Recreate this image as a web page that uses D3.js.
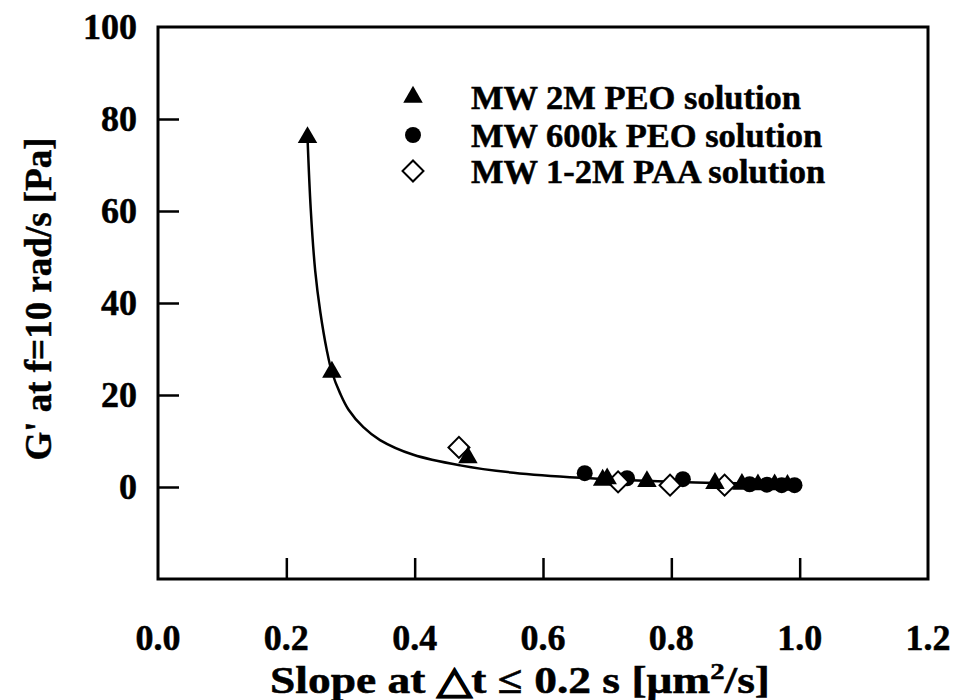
<!DOCTYPE html>
<html>
<head>
<meta charset="utf-8">
<script src="https://cdn.jsdelivr.net/npm/d3@7"></script>
<style>
  body { margin: 0; background: #fff; }
  text { font-family: "Liberation Serif", "Times New Roman", serif; font-weight: bold; fill: #000; stroke: #000; stroke-width: 0.5px; }
</style>
</head>
<body>
<div id="plot"></div>
<script>
// data
var triX = [0.233, 0.271, 0.483, 0.693, 0.700, 0.762, 0.868, 0.910, 0.935, 0.961, 0.981];
var triY = [76, 25, 6.4, 1.5, 1.8, 1.2, 0.8, 0.6, 0.5, 0.5, 0.4];
var circX = [0.665, 0.731, 0.818, 0.922, 0.949, 0.972, 0.992];
var circY = [3.0, 1.9, 1.7, 0.6, 0.5, 0.4, 0.4];
var diaX = [0.469, 0.717, 0.798, 0.883];
var diaY = [8.6, 1.1, 0.4, 0.4];

// fitted curve
var fitX = [0.233, 0.238, 0.245, 0.253, 0.263, 0.271, 0.284, 0.297, 0.320, 0.346, 0.398, 0.471, 0.554, 0.658, 0.813, 1.0];
var fitY = [76, 60.5, 47, 38, 29.8, 25, 20.3, 16.8, 13.0, 10.2, 7.0, 4.7, 3.1, 2.0, 1.1, 0.6];

var xTicks = [0, 0.2, 0.4, 0.6, 0.8, 1.0, 1.2];
var yTicks = [0, 20, 40, 60, 80, 100];
var legendLabels = ["MW 2M PEO solution", "MW 600k PEO solution", "MW 1-2M PAA solution"];

var W = 957, H = 700;
var margin = {left: 158, top: 27, right: 29, bottom: 121};

var svg = d3.select("#plot")
    .append("svg")
    .attr("width", W)
    .attr("height", H);

var x = d3.scaleLinear().domain([0, 1.2]).range([margin.left, W - margin.right]);
var y = d3.scaleLinear().domain([-20, 100]).range([H - margin.bottom, margin.top]);

// inner ticks
svg.append("g")
    .attr("transform", `translate(0, ${y(-20)})`)
    .call(d3.axisTop(x).tickValues(xTicks.slice(1, -1)).tickSize(21).tickFormat(""))
    .call(g => g.select(".domain").remove())
    .selectAll("line").attr("stroke-width", 2.5);

svg.append("g")
    .attr("transform", `translate(${x(0)}, 0)`)
    .call(d3.axisRight(y).tickValues(yTicks.slice(0, -1)).tickSize(21).tickFormat(""))
    .call(g => g.select(".domain").remove())
    .selectAll("line").attr("stroke-width", 2.5);

// frame
svg.append("rect")
    .attr("x", x(0))
    .attr("y", y(100))
    .attr("width", x(1.2) - x(0))
    .attr("height", y(-20) - y(100))
    .attr("fill", "none")
    .attr("stroke", "#000")
    .attr("stroke-width", 3);

// tick labels
svg.append("g").selectAll("text").data(xTicks)
    .enter().append("text")
    .attr("x", d => x(d))
    .attr("y", 650)
    .style("text-anchor", "middle")
    .style("font-size", "36px")
    .text(d => d3.format(".1f")(d));

svg.append("g").selectAll("text").data(yTicks)
    .enter().append("text")
    .attr("x", 137)
    .attr("y", d => y(d) + 12)
    .style("text-anchor", "end")
    .style("font-size", "36px")
    .text(d => d);

// axis titles
var xt = svg.append("text")
    .attr("x", 270)
    .attr("y", 693)
    .attr("textLength", 500)
    .attr("lengthAdjust", "spacingAndGlyphs")
    .style("font-size", "38px");
xt.append("tspan").text("Slope at \u25B3t \u2264 0.2 s [\u03BCm");
xt.append("tspan").attr("dy", -14).style("font-size", "24px").text("2");
xt.append("tspan").attr("dy", 14).text("/s]");

svg.append("text")
    .attr("transform", `translate(51, 299) rotate(-90)`)
    .style("text-anchor", "middle")
    .style("font-size", "37px")
    .text("G' at f=10 rad/s [Pa]");

// fit line
var line = d3.line()
    .x((d, i) => x(fitX[i]))
    .y((d, i) => y(fitY[i]))
    .curve(d3.curveCatmullRom.alpha(0.5));

svg.append("path")
    .datum(fitX)
    .attr("d", line)
    .attr("fill", "none")
    .attr("stroke", "#000")
    .attr("stroke-width", 2.5);

var triSym = d3.symbol().type(d3.symbolTriangle).size(165);
var circSym = d3.symbol().type(d3.symbolCircle).size(200);
var diaSym = d3.symbol().type(d3.symbolSquare).size(220);

// circles
svg.append("g").selectAll("path").data(circX)
    .enter().append("path")
    .attr("d", circSym)
    .attr("transform", (d, i) => `translate(${x(d)}, ${y(circY[i])})`)
    .attr("fill", "#000");

// diamonds
svg.append("g").selectAll("path").data(diaX)
    .enter().append("path")
    .attr("d", diaSym)
    .attr("transform", (d, i) => `translate(${x(d)}, ${y(diaY[i])}) rotate(45)`)
    .attr("fill", "#fff")
    .attr("stroke", "#000")
    .attr("stroke-width", 2);

// triangles
svg.append("g").selectAll("path").data(triX)
    .enter().append("path")
    .attr("d", triSym)
    .attr("transform", (d, i) => `translate(${x(d)}, ${y(triY[i])})`)
    .attr("fill", "#000");

// legend
var legend = svg.append("g");
var legY = [97, 135, 171];
legend.append("path").attr("d", triSym).attr("transform", `translate(413, ${legY[0]})`).attr("fill", "#000");
legend.append("path").attr("d", circSym).attr("transform", `translate(413, ${legY[1]})`).attr("fill", "#000");
legend.append("path").attr("d", diaSym)
    .attr("transform", `translate(413, ${legY[2]}) rotate(45)`)
    .attr("fill", "#fff").attr("stroke", "#000").attr("stroke-width", 2);

legend.selectAll("text").data(legendLabels)
    .enter().append("text")
    .attr("x", 471)
    .attr("y", (d, i) => legY[i] + 12)
    .style("font-size", "34.5px")
    .text(d => d);
</script>
</body>
</html>
